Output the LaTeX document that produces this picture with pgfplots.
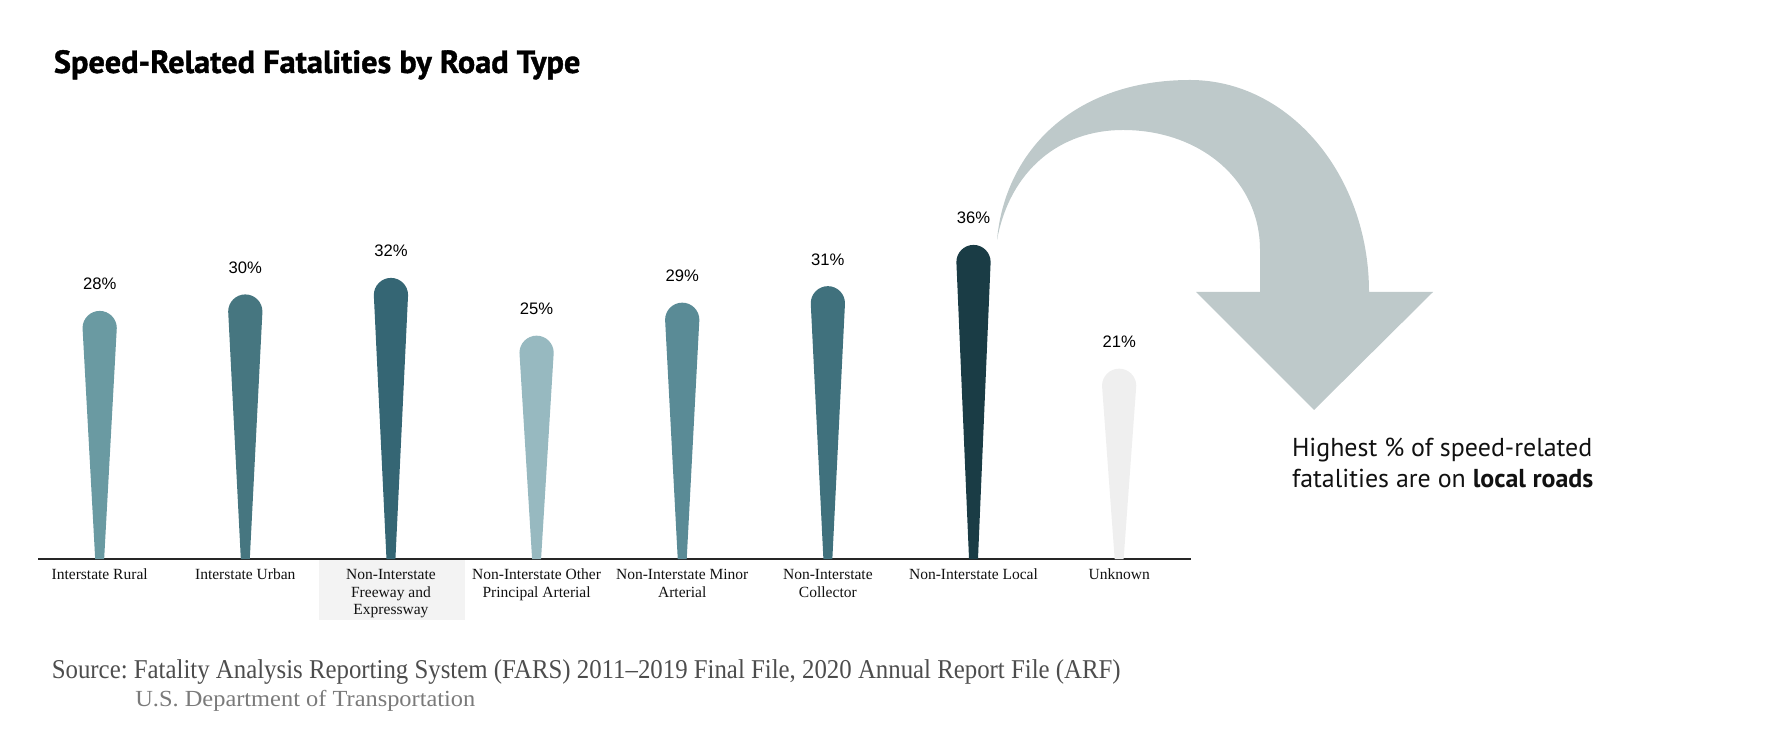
\documentclass[border=0pt]{standalone}
\usepackage{pgfplots}
\pgfplotsset{compat=1.18}
\usepackage{fontspec}
\usepackage{graphicx}
\setmainfont{Liberation Serif}
\newfontfamily\labelfont{Liberation Sans}
\newfontfamily\ptsans{PT Sans}
\newfontfamily\titlefont[BoldFeatures={FakeBold=1.2}]{PT Sans}
\definecolor{c1}{HTML}{6A9AA2}
\definecolor{c2}{HTML}{467680}
\definecolor{c3}{HTML}{356674}
\definecolor{c4}{HTML}{97B9C0}
\definecolor{c5}{HTML}{5A8B96}
\definecolor{c6}{HTML}{40717D}
\definecolor{c7}{HTML}{1A3C45}
\definecolor{c8}{HTML}{EFEFEF}
\definecolor{arrowc}{HTML}{BEC9CA}
\definecolor{hl}{HTML}{F3F3F3}
\definecolor{src1}{HTML}{4D4D4D}
\definecolor{src2}{HTML}{7A7A7A}
\definecolor{ink}{HTML}{111111}
\newdimen\dropd
\pgfdeclareplotmark{teardrop}{%
  \dropd=5.15625pt \dropd=\yval\dropd
  \pgfpathmoveto{\pgfqpoint{-2.8pt}{-\dropd}}%
  \pgfpathlineto{\pgfqpoint{-10.7pt}{0pt}}%
  \pgfpatharc{180}{0}{10.7pt}%
  \pgfpathlineto{\pgfqpoint{2.8pt}{-\dropd}}%
  \pgfpathclose
  \pgfusepathqfill
}
\pgfplotsset{drop/.style={only marks, mark=teardrop, color=#1,
  mark options={fill=#1, draw=none},
  visualization depends on={rawy \as \yval},
  point meta=rawy,
  nodes near coords={\pgfmathprintnumber[assume math mode=true]{\pgfplotspointmeta}\%},
  every node near coord/.append style={font=\labelfont\fontsize{10.4}{12}\selectfont,
    text=black, anchor=center, inner sep=0pt, yshift=27.5pt}}}
\begin{document}
\frenchspacing
\begin{tikzpicture}
\useasboundingbox (0,0) rectangle (1105pt,465pt);
\fill[hl] (199.4pt,77.5pt) rectangle (290.6pt,114.9pt);
\begin{scope}[shift={(0pt,465pt)}, x=0.625pt, y=-0.625pt]
\fill[arrowc] (997,240) .. controls (1005,150) and (1075,80) .. (1190,80)
  .. controls (1289,80) and (1369,175) .. (1369,292) -- (1433,292) -- (1314,410)
  -- (1196,292) -- (1260,292) -- (1260,250)
  .. controls (1260,180) and (1200,130) .. (1123,130)
  .. controls (1060,130) and (1010,170) .. (997,240) -- cycle;
\end{scope}
\begin{axis}[
  at={(24.06pt,115.6pt)}, anchor=south west,
  scale only axis, width=720pt, height=257.8125pt,
  xmin=-0.42, xmax=7.49, ymin=0, ymax=50,
  axis x line=bottom, axis y line=none,
  x axis line style={-, draw=black!85, line width=0.7pt},
  xtick={0,1,2,3,4,5,6,7},
  xticklabels={{Interstate Rural},{Interstate Urban},{Non-Interstate\\Freeway and\\Expressway},{Non-Interstate Other\\Principal Arterial},{Non-Interstate Minor\\Arterial},{Non-Interstate\\Collector},{Non-Interstate Local},{Unknown}},
  major tick length=0pt, ytick=\empty,
  typeset ticklabels with strut,
  xticklabel style={align=center, font=\fontsize{9.7}{11.1}\selectfont, text=ink,
    anchor=north, inner sep=0pt, yshift=-4.7pt},
  clip=false,
]
\addplot[drop=c1] coordinates {(0,28)};
\addplot[drop=c2] coordinates {(1,30)};
\addplot[drop=c3] coordinates {(2,32)};
\addplot[drop=c4] coordinates {(3,25)};
\addplot[drop=c5] coordinates {(4,29)};
\addplot[drop=c6] coordinates {(5,31)};
\addplot[drop=c7] coordinates {(6,36)};
\addplot[drop=c8] coordinates {(7,21)};
\end{axis}
\node[anchor=base west, inner sep=0pt, text=black] at (33.5pt,419.4pt)
  {\resizebox{329pt}{\height}{\titlefont\bfseries\fontsize{20}{23}\selectfont Speed-Related Fatalities by Road Type}};
\node[anchor=base west, inner sep=0pt, text=src1] at (32.2pt,40.8pt)
  {\resizebox{668pt}{\height}{\fontsize{17}{20}\selectfont Source: Fatality Analysis Reporting System (FARS) 2011–2019 Final File, 2020 Annual Report File (ARF)}};
\node[anchor=base west, inner sep=0pt, text=src2] at (84.4pt,23.3pt)
  {\resizebox{212.5pt}{\height}{\fontsize{14.4}{17}\selectfont U.S. Department of Transportation}};
\node[anchor=base west, inner sep=0pt, text=ink] at (807.3pt,179.6pt)
  {\ptsans\fontsize{16.2}{19}\selectfont Highest \% of speed-related};
\node[anchor=base west, inner sep=0pt, text=ink] at (807.3pt,160.4pt)
  {\ptsans\fontsize{16.2}{19}\selectfont fatalities are on \textbf{local roads}};
\end{tikzpicture}
\end{document}
